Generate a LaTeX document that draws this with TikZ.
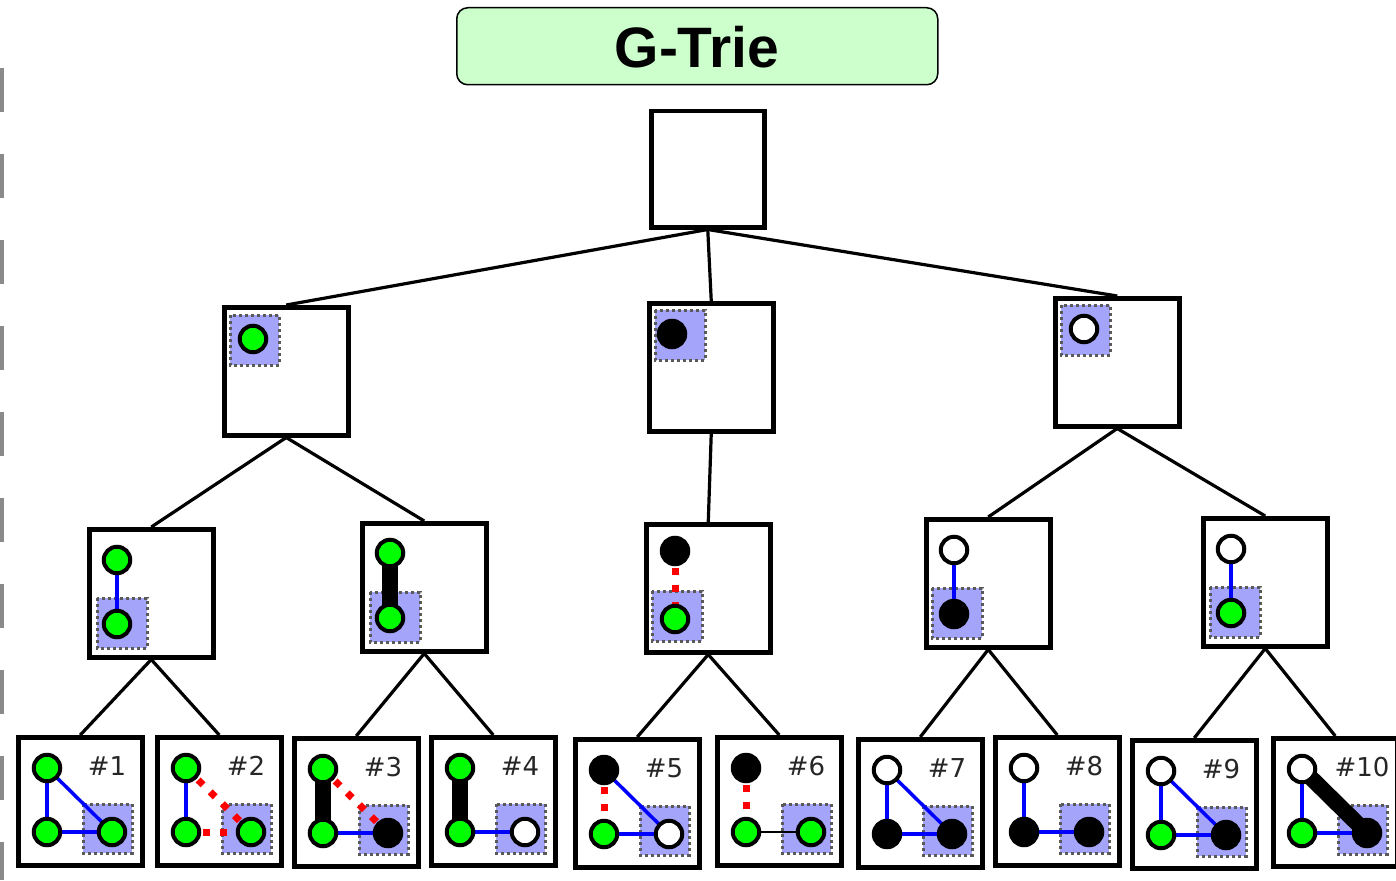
\documentclass[tikz,border=0pt]{standalone}
\usepackage{fontspec}
\newfontfamily\titlefont{Liberation Sans}
\newfontfamily\labfont{DejaVu Sans}
\definecolor{hlblue}{HTML}{A4A4FA}
\definecolor{titlegreen}{HTML}{CCFFCC}
\definecolor{ngreen}{HTML}{00FF00}
\definecolor{dashgray}{HTML}{8A8A8A}
\pgfdeclarelayer{hlayer}
\pgfdeclarelayer{elayer}
\pgfsetlayers{hlayer,elayer,main}
\tikzset{
  gbox/.style={draw, line width=4.5pt, minimum width=124pt, minimum height=128pt, inner sep=0pt, anchor=north west},
  conn/.style={line width=3.2pt},
  gnode/.style={circle, draw, line width=4pt, fill=ngreen, minimum size=26.5pt, inner sep=0pt},
  bnode/.style={circle, draw, line width=4pt, fill=black, minimum size=26.5pt, inner sep=0pt},
  wnode/.style={circle, draw, line width=4pt, fill=white, minimum size=26.5pt, inner sep=0pt},
  hl/.style={fill=hlblue, draw=black!65, line width=3pt, dash pattern=on 3pt off 3pt},
  be/.style={draw=blue, line width=3.5pt},
  te/.style={draw=black, line width=16pt},
  re/.style={draw=red, line width=7pt, dash pattern=on 7pt off 10pt},
  ke/.style={draw=black, line width=2.5pt},
  lbl/.style={font=\labfont\fontsize{26}{30}\selectfont, text=black!85, inner sep=0pt, anchor=base},
}
\newcommand\gtleaf[7]{%
  \begin{scope}[shift={(#2,#3)}]
    \node[gbox] (#1) at (0,0) {};
    \begin{pgfonlayer}{hlayer}\draw[hl] (67,69) rectangle (116,118);\end{pgfonlayer}
    \node[#4] (#1tl) at (31,33) {};
    \node[#5] (#1bl) at (31,97) {};
    \node[#6] (#1br) at (96,97) {};
    \node[lbl] (#1lab) at (91,40) {#7};
  \end{scope}}
\begin{document}
\begin{tikzpicture}[x=1pt, y=-1pt]
\useasboundingbox (0,0) rectangle (1396,880);
% left dashed rule
\draw[dashgray, line width=4pt, dash pattern=on 44pt off 42pt] (2,68) -- (2,880);
% title
\node[draw=black, line width=1.5pt, fill=titlegreen, rounded corners=11pt, minimum width=481pt, minimum height=77pt, inner sep=0pt, anchor=north west] (title) at (456,7) {};
\node[font=\titlefont\bfseries\fontsize{57}{60}\selectfont, inner sep=0pt, anchor=base] (titletext) at (697,68) {G-Trie};
% root
\node[draw, line width=4.5pt, minimum width=113pt, minimum height=116pt, inner sep=0pt, anchor=north west] (root) at (649,109) {};
% level 1
\node[gbox] (la) at (222,305) {};
\node[gbox] (lb) at (647,301) {};
\node[gbox] (lc) at (1053,296) {};
\begin{pgfonlayer}{hlayer}
\draw[hl] (230,315) rectangle (279,365);
\draw[hl] (655,310) rectangle (705,360);
\draw[hl] (1061,305) rectangle (1110,355);
\end{pgfonlayer}
\node[gnode] (lan) at (253,339) {};
\node[bnode] (lbn) at (672,334) {};
\node[wnode] (lcn) at (1084,329) {};
% level 2
\node[gbox] (ma) at (87,527) {};
\node[gbox] (mb) at (360,521) {};
\node[gbox] (mc) at (644,522) {};
\node[gbox] (md) at (924,517) {};
\node[gbox] (me) at (1201,516) {};
\begin{pgfonlayer}{hlayer}
\draw[hl] (97,598) rectangle (147,648);
\draw[hl] (370,592) rectangle (420,642);
\draw[hl] (652,591) rectangle (702,641);
\draw[hl] (932,588) rectangle (982,638);
\draw[hl] (1210,587) rectangle (1260,637);
\end{pgfonlayer}
\node[gnode] (mat) at (117,560) {};
\node[gnode] (mab) at (117,624) {};
\node[gnode] (mbt) at (390,553) {};
\node[gnode] (mbb) at (390,618) {};
\node[bnode] (mct) at (675,551) {};
\node[gnode] (mcb) at (675,619) {};
\node[wnode] (mdt) at (954,550) {};
\node[bnode] (mdb) at (954,614) {};
\node[wnode] (met) at (1231,549) {};
\node[gnode] (meb) at (1231,613) {};
% leaves
\gtleaf{pa}{16}{735}{gnode}{gnode}{gnode}{\#1}
\gtleaf{pb}{155}{735}{gnode}{gnode}{gnode}{\#2}
\gtleaf{pc}{292}{736}{gnode}{gnode}{bnode}{\#3}
\gtleaf{pd}{429}{735}{gnode}{gnode}{wnode}{\#4}
\gtleaf{pe}{573}{737}{bnode}{gnode}{wnode}{\#5}
\gtleaf{pf}{715}{735}{bnode}{gnode}{gnode}{\#6}
\gtleaf{pg}{856}{737}{wnode}{bnode}{bnode}{\#7}
\gtleaf{ph}{993}{735}{wnode}{bnode}{bnode}{\#8}
\gtleaf{pi}{1130}{738}{wnode}{gnode}{bnode}{\#9}
\gtleaf{pj}{1271}{736}{wnode}{gnode}{bnode}{\#10}
% graph edges
\begin{pgfonlayer}{elayer}
\draw[be] (mat.center) -- (mab.center);
\draw[te] (mbt.center) -- (mbb.center);
\draw[re] (mct.center) -- (mcb.center);
\draw[be] (mdt.center) -- (mdb.center);
\draw[be] (met.center) -- (meb.center);
% #1
\draw[be] (patl.center) -- (pabl.center);
\draw[be] (pabl.center) -- (pabr.center);
\draw[be] (patl.center) -- (pabr.center);
% #2
\draw[be] (pbtl.center) -- (pbbl.center);
\draw[re] (pbtl.center) -- (pbbr.center);
\draw[re] (pbbl.center) -- (pbbr.center);
% #3
\draw[te] (pctl.center) -- (pcbl.center);
\draw[re] (pctl.center) -- (pcbr.center);
\draw[be] (pcbl.center) -- (pcbr.center);
% #4
\draw[te] (pdtl.center) -- (pdbl.center);
\draw[be] (pdbl.center) -- (pdbr.center);
% #5
\draw[re] (petl.center) -- (pebl.center);
\draw[be] (petl.center) -- (pebr.center);
\draw[be] (pebl.center) -- (pebr.center);
% #6
\draw[re] (pftl.center) -- (pfbl.center);
\draw[ke] (pfbl.center) -- (pfbr.center);
% #7
\draw[be] (pgtl.center) -- (pgbl.center);
\draw[be] (pgbl.center) -- (pgbr.center);
\draw[be] (pgtl.center) -- (pgbr.center);
% #8
\draw[be] (phtl.center) -- (phbl.center);
\draw[be] (phbl.center) -- (phbr.center);
% #9
\draw[be] (pitl.center) -- (pibl.center);
\draw[be] (pibl.center) -- (pibr.center);
\draw[be] (pitl.center) -- (pibr.center);
% #10
\draw[be] (pjtl.center) -- (pjbl.center);
\draw[be] (pjbl.center) -- (pjbr.center);
\draw[te] (pjtl.center) -- (pjbr.center);
\end{pgfonlayer}
% tree connectors
\draw[conn] (root.south) -- (la.north);
\draw[conn] (root.south) -- (lb.north);
\draw[conn] (root.south) -- (lc.north);
\draw[conn] (la.south) -- (ma.north);
\draw[conn] (la.south) -- (mb.north);
\draw[conn] (lb.south) -- (mc.north);
\draw[conn] (lc.south) -- (md.north);
\draw[conn] (lc.south) -- (me.north);
\draw[conn] (ma.south) -- (pa.north);
\draw[conn] (ma.south) -- (pb.north);
\draw[conn] (mb.south) -- (pc.north);
\draw[conn] (mb.south) -- (pd.north);
\draw[conn] (mc.south) -- (pe.north);
\draw[conn] (mc.south) -- (pf.north);
\draw[conn] (md.south) -- (pg.north);
\draw[conn] (md.south) -- (ph.north);
\draw[conn] (me.south) -- (pi.north);
\draw[conn] (me.south) -- (pj.north);
\end{tikzpicture}
\end{document}
